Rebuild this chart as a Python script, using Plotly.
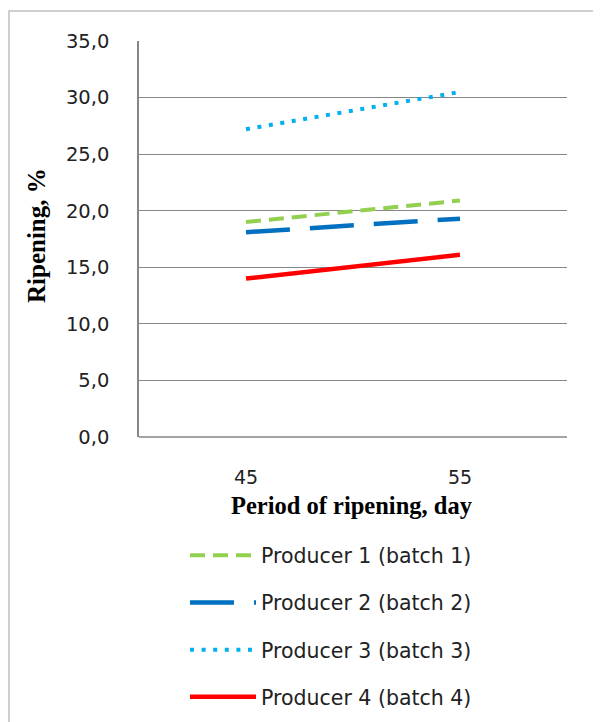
import plotly.graph_objects as go

categories = ["45", "55"]
series_names = ["Producer 1 (batch 1)", "Producer 2 (batch 2)",
                "Producer 3 (batch 3)", "Producer 4 (batch 4)"]
producer1 = [19.0, 20.9]
producer2 = [18.1, 19.3]
producer3 = [27.2, 30.5]
producer4 = [14.0, 16.1]
y_ticks = [0, 5, 10, 15, 20, 25, 30, 35]

values = [producer1, producer2, producer3, producer4]
colors = ["#92D050", "#0070C0", "#00B0F0", "#FF0000"]
dashes = ["15px,8px", "44px,20px", "4px,7.6px", "solid"]
widths = [4, 4.5, 4, 4.5]

# the page body adds an 8px offset; plot area is sized so it lands at
# screen x 139..567, y 41..437
PL, PR, PT, PB = 139, 567, 41, 437
OFF = 8
W, H = 601 - OFF, 722 - OFF


def px_x(sx):
    return (sx - PL) / (PR - PL)


def px_y(sy):
    return (PB - sy) / (PB - PT)


fig = go.Figure()
for i, (name, vals) in enumerate(zip(series_names, values)):
    fig.add_trace(go.Scatter(
        x=categories, y=vals, name=name, mode="lines",
        line=dict(color=colors[i], dash=dashes[i], width=widths[i]),
        legendgroup=f"g{i}",
    ))

fig.update_layout(
    width=W, height=H,
    margin=dict(l=PL - OFF, r=W - (PR - OFF), t=PT - OFF, b=H - (PB - OFF),
                autoexpand=False),
    paper_bgcolor="white", plot_bgcolor="white",
    separators=", ",
    showlegend=True,
    legend=dict(
        x=px_x(185), xanchor="left", y=px_y(535.5), yanchor="top",
        orientation="v", traceorder="grouped", tracegroupgap=17.5,
        font=dict(family="DejaVu Sans", size=20.5, color="#222"),
        itemwidth=66, bgcolor="rgba(0,0,0,0)",
    ),
    xaxis=dict(
        type="category", range=[-0.5, 1.5],
        showgrid=False, showline=False, zeroline=False,
        ticks="outside", ticklen=23, tickcolor="rgba(0,0,0,0)",
        tickfont=dict(family="DejaVu Sans", size=19, color="#222"),
    ),
    yaxis=dict(
        range=[0, 35], tickvals=y_ticks, tickformat=".1f",
        showgrid=True, gridcolor="#868686", gridwidth=1.2,
        showline=True, linecolor="#868686", linewidth=1.5,
        zeroline=False,
        ticks="outside", ticklen=24, tickcolor="rgba(0,0,0,0)",
        tickfont=dict(family="DejaVu Sans", size=19.5, color="#222"),
    ),
    annotations=[
        dict(text="<b>Period of ripening, day</b>", xref="paper", yref="paper",
             x=px_x(352), y=px_y(505), xanchor="center", yanchor="middle",
             showarrow=False,
             font=dict(family="Liberation Serif", size=24.5, color="black")),
        dict(text="<b>Ripening, %</b>", xref="paper", yref="paper",
             x=px_x(36), y=px_y(236), xanchor="center", yanchor="middle",
             showarrow=False, textangle=-90,
             font=dict(family="Liberation Serif", size=25, color="black")),
    ],
    shapes=[
        dict(type="rect", xref="paper", yref="paper",
             x0=px_x(9), x1=px_x(615), y0=px_y(740), y1=px_y(11),
             line=dict(color="#BFBFBF", width=1.5), fillcolor="rgba(0,0,0,0)",
             layer="below"),
        dict(type="line", xref="paper", yref="paper",
             x0=0, x1=1, y0=0, y1=0,
             line=dict(color="#868686", width=1.5)),
    ],
)

fig.write_html("out.html")
